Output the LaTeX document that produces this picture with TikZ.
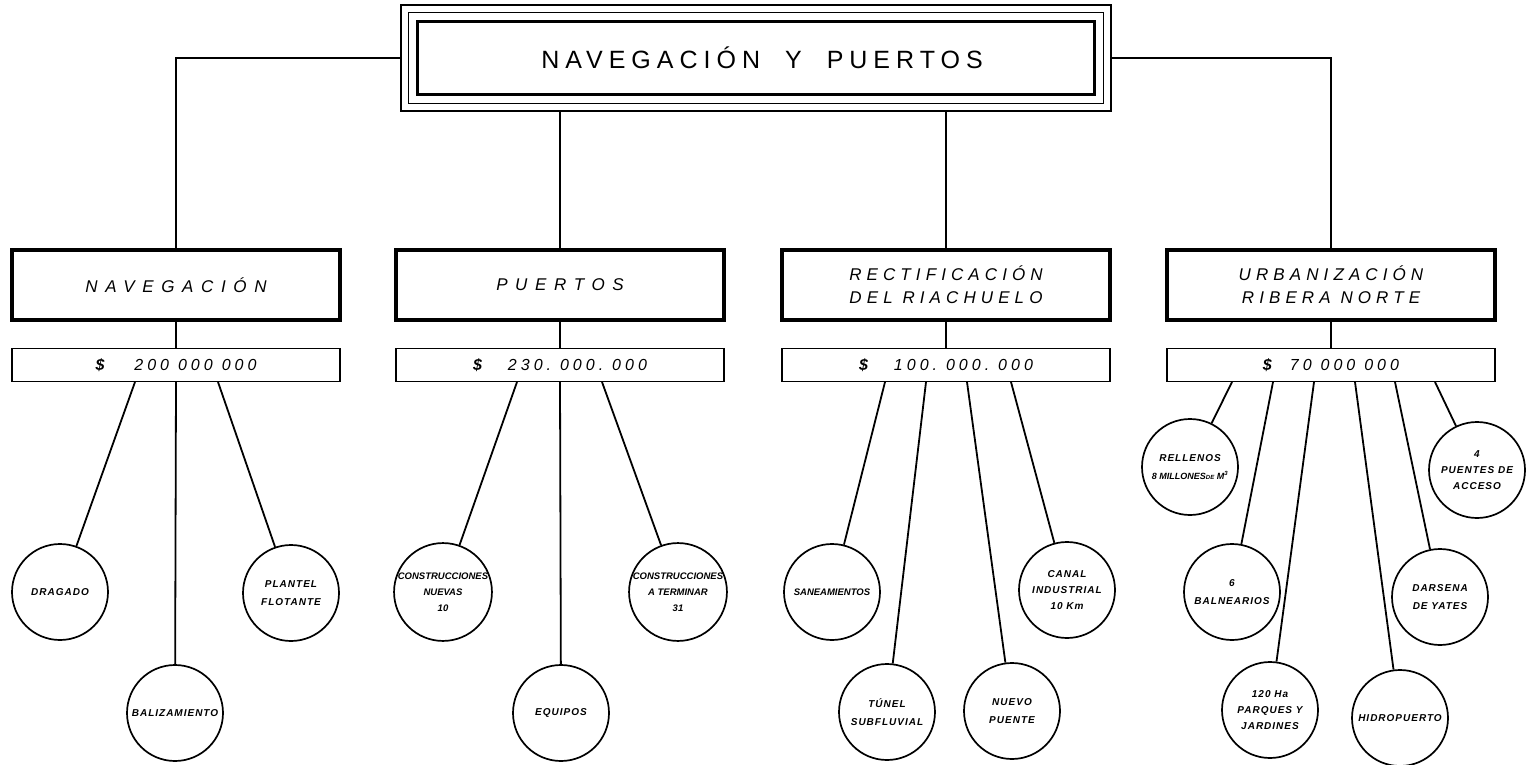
\documentclass[tikz,border=0pt]{standalone}
\usepackage{fontspec}
\setmainfont{Liberation Sans}
\newfontfamily\titlefont[LetterSpace=24]{Liberation Sans}
\newfontfamily\catfont[LetterSpace=30]{Liberation Sans}
\newfontfamily\widecatfont[LetterSpace=45]{Liberation Sans}
\newfontfamily\sumfont[LetterSpace=25]{Liberation Sans}
\newfontfamily\itemfont[LetterSpace=10]{Liberation Sans}
\newfontfamily\tightfont{Liberation Sans}
\usetikzlibrary{positioning,fit,calc}
\newcommand{\gap}{\hspace{9pt}}

\begin{document}
\begin{tikzpicture}[
  x=1pt,y=-1pt,
  titlebox/.style={draw,line width=3.5pt,minimum width=677pt,minimum height=73pt,inner sep=0pt,font=\titlefont\fontsize{25}{28}\selectfont},
  titleframe/.style={draw,line width=1.3pt,inner sep=7pt},
  catbox/.style={draw,line width=3.2pt,minimum width=328pt,minimum height=70pt,align=center,font=\catfont\itshape\fontsize{17}{23}\selectfont},
  sumbar/.style={draw,line width=1.4pt,minimum width=328pt,minimum height=33pt,inner sep=0pt,font=\sumfont\itshape\fontsize{16}{18}\selectfont},
  item/.style={draw,circle,line width=1.7pt,minimum size=96pt,inner sep=0pt,align=center,font=\itemfont\bfseries\itshape\fontsize{10}{18}\selectfont},
  tight/.style={font=\tightfont\bfseries\itshape\fontsize{9.5}{16}\selectfont},
  link/.style={line width=2.6pt},
  twig/.style={line width=1.8pt}
]
\useasboundingbox (0,0) rectangle (1526,765);

% title
\node[titlebox] (title) at (756,58) {\hspace{12pt}NAVEGACIÓN\quad Y\quad PUERTOS};
\node[titleframe,fit=(title)] (titlemid) {};
\node[titleframe,fit=(titlemid)] (titleout) {};

% branches
\node[catbox,font=\widecatfont\itshape\fontsize{17}{23}\selectfont] (nav) at (176,285) {NAVEGACIÓN};
\node[catbox,font=\widecatfont\itshape\fontsize{17}{23}\selectfont] (pue) at (560,285) {PUERTOS};
\node[catbox] (rec) at (946,285) {RECTIFICACIÓN\\DEL RIACHUELO};
\node[catbox] (urb) at (1331,285) {URBANIZACIÓN\\RIBERA NORTE};

\node[sumbar,below=26pt of nav] (navsum) {\textbf{\$}\hspace{30pt}200\gap000\gap000};
\node[sumbar,below=26pt of pue] (puesum) {\textbf{\$}\hspace{26pt}230.\gap000.\gap000};
\node[sumbar,below=26pt of rec] (recsum) {\textbf{\$}\hspace{26pt}100.\gap000.\gap000};
\node[sumbar,below=26pt of urb] (urbsum) {\textbf{\$}\hspace{18pt}70\gap000\gap000};

\draw[link] (titleout.west) -| (nav.north);
\draw[link] (titleout.east) -| (urb.north);
\draw[link] (titleout.south -| pue.north) -- (pue.north);
\draw[link] (titleout.south -| rec.north) -- (rec.north);
\draw[twig] (nav) -- (navsum);
\draw[twig] (pue) -- (puesum);
\draw[twig] (rec) -- (recsum);
\draw[twig] (urb) -- (urbsum);

% navegacion
\node[item] (dragado) at (60,592) {DRAGADO};
\node[item] (baliza) at (175,713) {BALIZAMIENTO};
\node[item] (plantel) at (291,593) {PLANTEL\\FLOTANTE};
\draw[twig] ($(navsum.south)+(-41,0)$) -- (dragado);
\draw[twig] (navsum.south) -- (baliza);
\draw[twig] ($(navsum.south)+(42,0)$) -- (plantel);

% puertos
\node[item,tight] (nuevas) at (443,592) {CONSTRUCCIONES\\NUEVAS\\10};
\node[item] (equipos) at (561,713) {EQUIPOS};
\node[item,tight] (aterminar) at (678,592) {CONSTRUCCIONES\\A TERMINAR\\31};
\draw[twig] ($(puesum.south)+(-43,0)$) -- (nuevas);
\draw[twig] (puesum.south) -- (equipos);
\draw[twig] ($(puesum.south)+(42,0)$) -- (aterminar);

% riachuelo
\node[item,tight] (sanea) at (832,592) {SANEAMIENTOS};
\node[item] (tunel) at (887,712) {TÚNEL\\SUBFLUVIAL};
\node[item] (puente) at (1012,711) {NUEVO\\PUENTE};
\node[item,font=\itemfont\bfseries\itshape\fontsize{10}{16}\selectfont] (canal) at (1067,590) {CANAL\\INDUSTRIAL\\10 Km};
\draw[twig] ($(recsum.south)+(-61,0)$) -- (sanea);
\draw[twig] ($(recsum.south)+(-20,0)$) -- (tunel);
\draw[twig] ($(recsum.south)+(21,0)$) -- (puente);
\draw[twig] ($(recsum.south)+(65,0)$) -- (canal);

% ribera norte
\node[item] (rellenos) at (1190,467) {RELLENOS\\{\tightfont\fontsize{9}{10}\selectfont 8 MILLONES{\fontsize{6}{6}\selectfont DE} M\textsuperscript{3}}};
\node[item] (balnea) at (1232,592) {6\\BALNEARIOS};
\node[item,font=\itemfont\bfseries\itshape\fontsize{10}{16}\selectfont] (parques) at (1270,710) {120 Ha\\PARQUES Y\\JARDINES};
\node[item] (hidro) at (1400,718) {HIDROPUERTO};
\node[item] (darsena) at (1440,597) {DARSENA\\DE YATES};
\node[item,font=\itemfont\bfseries\itshape\fontsize{10}{16}\selectfont] (accesos) at (1477,470) {4\\PUENTES DE\\ACCESO};
\draw[twig] ($(urbsum.south)+(-99,0)$) -- (rellenos);
\draw[twig] ($(urbsum.south)+(-58,0)$) -- (balnea);
\draw[twig] ($(urbsum.south)+(-17,0)$) -- (parques);
\draw[twig] ($(urbsum.south)+(24,0)$) -- (hidro);
\draw[twig] ($(urbsum.south)+(64,0)$) -- (darsena);
\draw[twig] ($(urbsum.south)+(104,0)$) -- (accesos);
\end{tikzpicture}
\end{document}
